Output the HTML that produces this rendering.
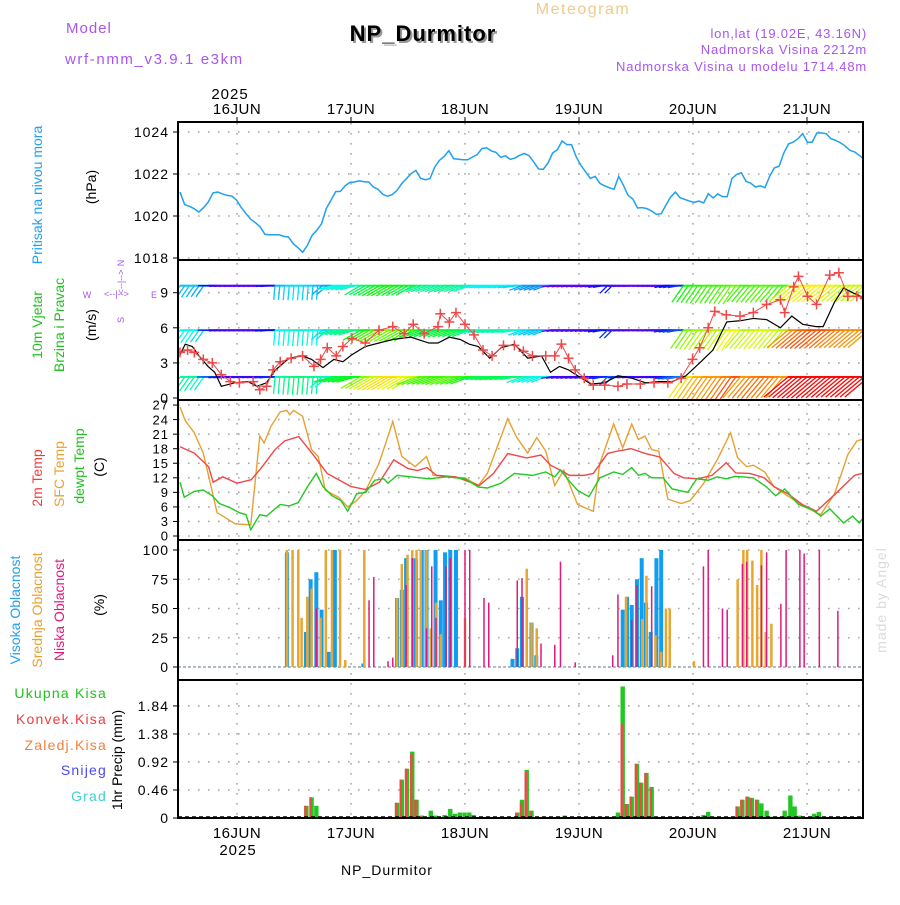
<!DOCTYPE html>
<html><head><meta charset="utf-8"><style>
body{margin:0;background:#fff;}
svg text{font-family:"Liberation Sans",sans-serif;}
</style></head><body>
<svg id="chart" width="900" height="900" viewBox="0 0 900 900" xmlns="http://www.w3.org/2000/svg">
<rect width="900" height="900" fill="#fff"/>
<text x="66" y="33" fill="#a855f0" font-size="15" letter-spacing="1">Model</text>
<text x="65" y="64" fill="#a855f0" font-size="15" letter-spacing="1.6">wrf-nmm_v3.9.1 e3km</text>
<text x="583" y="14" fill="#f2c98a" font-size="16" letter-spacing="1.5" text-anchor="middle">Meteogram</text>
<text x="425" y="43" fill="#999" font-size="22" font-weight="bold" text-anchor="middle" letter-spacing="1">NP_Durmitor</text>
<text x="423" y="41" fill="#000" font-size="22" font-weight="bold" text-anchor="middle" letter-spacing="1">NP_Durmitor</text>
<text x="867" y="38" fill="#a855f0" font-size="13" text-anchor="end" letter-spacing="0.8">lon,lat (19.02E, 43.16N)</text>
<text x="867" y="54" fill="#a855f0" font-size="13" text-anchor="end" letter-spacing="0.8">Nadmorska Visina 2212m</text>
<text x="867" y="71" fill="#a855f0" font-size="13" text-anchor="end" letter-spacing="0.8">Nadmorska Visina u modelu 1714.48m</text>
<text x="230" y="99" fill="#000" font-size="15" text-anchor="middle" letter-spacing="1">2025</text>
<text x="238" y="855" fill="#000" font-size="15" text-anchor="middle" letter-spacing="1">2025</text>
<text x="387" y="875" fill="#000" font-size="14" text-anchor="middle" letter-spacing="1">NP_Durmitor</text>
<text transform="translate(886,600) rotate(-90)" fill="#d8ddd8" font-size="14" text-anchor="middle" letter-spacing="1">made by Angel</text>

<g font-size="14">
<text transform="translate(42,195) rotate(-90)" fill="#1fa0f0" text-anchor="middle">Pritisak na nivou mora</text>
<text transform="translate(96,187) rotate(-90)" fill="#000" text-anchor="middle">(hPa)</text>
<text transform="translate(42,325) rotate(-90)" fill="#22c022" text-anchor="middle">10m Vjetar</text>
<text transform="translate(64,325) rotate(-90)" fill="#22c022" text-anchor="middle">Brzina i Pravac</text>
<text transform="translate(96,325) rotate(-90)" fill="#000" text-anchor="middle">(m/s)</text>
<text transform="translate(42,478) rotate(-90)" fill="#f03c3c" text-anchor="middle">2m Temp</text>
<text transform="translate(64,474) rotate(-90)" fill="#e8a030" text-anchor="middle">SFC Temp</text>
<text transform="translate(84,466) rotate(-90)" fill="#22c022" text-anchor="middle">dewpt Temp</text>
<text transform="translate(104,467) rotate(-90)" fill="#000" text-anchor="middle">(C)</text>
<text transform="translate(20,610) rotate(-90)" fill="#1fa0f0" text-anchor="middle">Visoka Oblacnost</text>
<text transform="translate(42,610) rotate(-90)" fill="#e8a030" text-anchor="middle">Srednja Oblacnost</text>
<text transform="translate(64,610) rotate(-90)" fill="#e0197d" text-anchor="middle">Niska Oblacnost</text>
<text transform="translate(104,605) rotate(-90)" fill="#000" text-anchor="middle">(%)</text>
<text transform="translate(122,760) rotate(-90)" fill="#000" text-anchor="middle">1hr Precip (mm)</text>
</g>
<g font-size="14" letter-spacing="1.2" text-anchor="end">
<text x="107" y="698" fill="#22c022">Ukupna Kisa</text>
<text x="107" y="724" fill="#f03c3c">Konvek.Kisa</text>
<text x="107" y="750" fill="#f08040">Zaledj.Kisa</text>
<text x="107" y="775" fill="#4848f0">Snijeg</text>
<text x="107" y="801" fill="#40d0d0">Grad</text>
</g>
<g fill="#a855f0" font-size="9" stroke="none">
<text x="87" y="298" text-anchor="middle">W</text>
<text x="154" y="298" text-anchor="middle">E</text>
<text x="104" y="297">&lt;--|--&gt;</text>
<text transform="translate(124,282) rotate(-90)" text-anchor="middle">&lt;--|--&gt;</text>
<text transform="translate(124,263) rotate(-90)" text-anchor="middle">N</text>
<text transform="translate(124,320) rotate(-90)" text-anchor="middle">S</text>
</g>
<g id="plot"></g>
</svg>
<script>
// ---------- data ----------
const dayLabels=["16JUN","17JUN","18JUN","19JUN","20JUN","21JUN"];
const dayHours=[12,36,60,84,108,132];
const pressureTicks=[1018,1020,1022,1024];
const windTicks=[0,3,6,9];
const tempTicks=[0,3,6,9,12,15,18,21,24,27];
const cloudTicks=[0,25,50,75,100];
const precipTicks=[0,0.46,0.92,1.38,1.84];

const pressure=[1021.14,1020.54,1020.46,1020.35,1020.19,1020.40,1020.67,1021.10,1021.14,1021.05,1020.98,1020.95,1020.75,1020.40,1020.11,1019.84,1019.68,1019.48,1019.13,1019.11,1019.11,1019.11,1019.03,1019.00,1018.68,1018.49,1018.27,1018.60,1019.08,1019.32,1019.63,1020.35,1020.75,1021.16,1021.17,1021.44,1021.60,1021.62,1021.68,1021.63,1021.62,1021.38,1021.27,1021.03,1020.94,1021.02,1021.22,1021.54,1021.78,1022.02,1022.17,1021.79,1021.73,1021.78,1022.33,1022.65,1022.84,1023.11,1022.73,1022.70,1022.68,1022.68,1022.81,1022.92,1023.21,1023.25,1023.10,1023.03,1022.79,1022.87,1022.70,1022.76,1022.89,1022.98,1022.87,1022.57,1022.24,1022.22,1022.52,1023.00,1023.16,1023.57,1023.40,1023.40,1022.81,1022.41,1022.10,1021.79,1021.89,1021.56,1021.44,1021.35,1021.27,1021.89,1021.46,1020.98,1020.81,1020.38,1020.40,1020.35,1020.24,1020.08,1020.11,1020.51,1020.90,1021.14,1020.87,1020.79,1020.71,1020.65,1020.71,1020.62,1021.06,1020.86,1021.05,1020.92,1020.92,1021.78,1021.98,1022.06,1021.65,1021.56,1021.38,1021.44,1021.35,1021.89,1022.29,1022.37,1023.00,1023.43,1023.52,1023.68,1023.92,1023.51,1023.51,1023.95,1023.95,1023.92,1023.68,1023.60,1023.49,1023.33,1023.13,1023.05,1022.89,1022.70];

const t2Hours=[0,3,6,7,9,12,15,17,20,22,25,28,31,33,36,39,42,45,48,50,52,54,58,63,66,69,73,76,78,80,82,85,87,90,92,95,98,101,104,106,109,112,115,117,120,123,125,128,131,134,138,142,144];
const t2Values=[18.4,17.1,14.3,11.1,12.2,10.9,11.6,13.9,17.8,19.6,20.5,16.8,12.9,11.8,10.2,9.6,11.1,15.7,13.9,13.5,14.1,12.5,12.2,10.4,12.9,17.0,16.1,16.7,14.6,13.6,12.5,12.5,12.9,17.0,17.5,18.0,17.0,16.3,12.9,12.0,11.8,12.5,15.1,13.0,12.9,12.0,10.2,8.7,6.5,5.1,8.7,12.5,13.0];
const sfcHours=[0,1.1,3,4.9,6.4,7.8,9.7,11.6,14.9,16.8,17.7,19.2,21.1,22.5,23.1,23.9,25.8,27.7,29.1,30.6,33.4,35.3,37.2,39.1,41.9,43.8,44.8,46.7,49.5,51.9,53.3,56.2,60,62.8,64.7,67.1,69,70.9,73.2,75.1,77,78.9,80.8,83.7,87,88.4,91.3,93.2,95.1,96.5,97.9,99.3,100.8,102.7,105.5,107.4,110.2,113.1,115.9,117.4,119.3,120.7,123.1,125,127.3,131.1,134.9,137.8,140.6,142.5,144.2];
const sfcValues=[26.6,23.8,21.3,17.1,10.8,4.8,3.7,2.5,2.3,20.6,19.2,22.7,25.6,25.9,25.0,25.9,24.7,17.8,16.4,9.4,8.0,6.0,7.3,9.4,15.0,20.6,23.6,16.4,14.3,16.4,12.5,12.2,12.0,10.4,12.9,19.2,24.2,20.3,17.1,20.3,17.5,10.4,13.6,6.5,5.1,15.0,23.1,18.2,23.1,19.9,20.6,17.8,17.5,7.6,6.7,7.3,10.8,15.7,21.3,16.1,14.3,14.6,13.2,10.2,8.7,6.2,4.4,8.7,16.8,19.6,20.1];
const dewHours=[0,0.9,3,4.9,6.8,8.3,10.6,12.5,13.9,14.9,16.8,18.2,21.1,23,24.9,26.8,28.7,30.1,32,33.9,35.3,37.2,39.1,41,42.9,43.8,45.7,48.6,52.4,56.2,60,62.8,64.7,67.6,70.4,74.2,77,78.9,80.1,81.8,83.7,86.1,88.4,91.3,93.2,95.1,96.5,97.9,99.3,101.7,103.6,106.9,108.8,111.2,113.1,115,116.9,120.7,123.5,125.4,127.3,130.2,133,134.9,136.8,139.7,141.6,143,144.4];
const dewValues=[11.1,8.0,9.2,9.5,8.3,6.7,5.8,4.8,4.4,1.3,4.4,4.1,6.5,6.2,6.9,10.1,12.9,10.2,8.3,7.3,5.1,8.7,9.0,11.5,11.8,10.9,12.5,12.2,11.8,12.2,11.8,10.1,9.9,10.9,12.9,12.5,13.2,12.2,13.6,11.5,9.4,8.1,12.0,13.2,12.7,14.1,12.5,12.9,12.0,12.0,9.7,9.0,11.8,11.5,12.2,11.8,12.3,12.0,10.1,8.3,9.7,6.5,5.5,4.1,5.6,2.7,4.1,2.7,4.4];

const windHours=[0,1.1,2.6,4,5.9,7.3,8.7,11.5,14.3,16.2,18.2,20.1,23,25.8,27.7,30.1,32.4,34.3,36.2,39,41.9,44.8,48.6,52.4,54.3,56.7,59,60.9,62.8,65.2,67.6,70.4,73.2,76.1,78,79.9,81.8,83.7,86.5,89.4,92.2,95.1,98,100.8,103.6,106.5,109.4,112.2,115.1,117.9,120.7,123.5,126.4,128.8,131.1,133.9,135.4,137.8,139.7,141.6,144.4];
const windSpeed=[3.7,4.6,4.4,3.6,2.7,2.2,1.0,1.3,1.4,1.0,1.3,2.4,3.4,3.6,3.3,2.6,3.3,3.1,3.7,4.4,4.7,5.0,5.2,4.7,4.7,5.2,5.0,4.6,4.4,3.4,4.3,4.6,3.4,3.6,2.2,2.7,2.4,1.9,1.2,1.3,1.9,1.7,1.3,1.4,1.4,1.9,3.0,4.1,6.5,6.6,6.8,6.7,6.0,7.0,6.3,6.1,6.1,8.2,9.4,9.0,8.5];
const gustHours=[0,1.6,3,4.9,6.8,8.7,10.6,12.5,15.4,16.8,18.2,19.6,21.1,23.4,25.8,28.2,29.6,31.0,32.9,34.3,36.2,39,41.9,44.8,47.2,49.1,51.4,54.3,54.8,56.7,58.1,60,61.9,63.8,65.7,68.1,70.4,72.3,74.2,77,78.9,80.3,81.8,83.2,85.1,87,89.4,92.2,94.1,96.9,99.8,102.7,105.5,107.9,109.4,111.2,112.6,115,117.9,120.7,123.5,126.4,127.3,129.2,130.2,132.1,134,136.8,138.7,140.6,142.5,144.2];
const gustValues=[3.9,4.1,3.9,3.3,3.0,2.0,1.4,1.3,1.4,0.7,1.0,2.4,3.1,3.4,3.6,2.7,3.3,4.3,3.6,4.4,5.1,4.7,5.8,6.1,5.5,6.3,5.5,6.1,7.2,6.5,7.3,6.3,5.4,4.1,3.6,4.5,4.5,4.0,3.6,3.6,3.6,4.6,3.4,2.4,1.7,1.1,1.1,1.0,1.2,1.2,1.3,1.3,1.7,3.3,4.3,6.0,7.4,7.1,7.0,7.3,8.0,8.4,7.3,9.5,10.4,8.7,8.0,10.5,10.7,8.7,8.7,8.5];

// barbs every 2 h: direction (deg, from) and speed at barb level
const barbDir=[215,215,215,270,275,275,275,275,275,275,185,185,185,185,185,230,255,255,255,240,240,240,240,240,240,250,250,250,250,250,250,262,262,262,262,262,250,250,250,278,278,278,278,278,260,225,275,275,275,275,275,260,260,215,215,215,215,215,215,220,220,220,220,220,230,230,230,230,230,230,230,230,230];
const barbSpeed=[3.5,3.5,3.2,1.6,0.9,0.8,0.8,0.8,0.8,1.4,3.5,3.7,3.8,3.7,3.5,3.2,4.2,4.3,4.5,5.5,6.0,6.5,6.5,6.2,6.0,5.2,5.0,5.0,5.2,5.0,4.8,4.0,4.0,4.2,4.0,3.8,3.2,3.0,3.0,0.8,0.7,0.8,0.8,0.9,1.4,1.8,0.8,0.8,0.7,0.8,0.9,1.6,2.0,6.5,6.8,7.0,7.0,7.2,7.5,7.0,7.2,7.3,7.2,7.0,8.5,8.8,9.0,9.0,8.8,8.6,8.5,8.5,8.4];
const barbLevels=[9.6,5.8,1.8];
const barbLevelFactor=[0.85,1.0,1.2];

const highHours=[22.5,26.5,27.5,28.7,29.8,31.3,32.6,38.6,45.7,46.7,47.6,49.1,49.7,50.9,51.9,53.8,54.9,55.8,56.9,58.1,70.0,71.0,72.0,74.0,75.0,93.2,94.1,95.1,96.2,97.2,98.1,99.1,100.3,101.3];
const highValues=[98,30,75,81,49,13,100,3,59,66,93,93,92,100,100,100,57,98,100,100,7,16,60,38,10,49,60,53,75,93,55,30,93,100];
const midHours=[22.5,23.7,24.9,25.6,26.8,27.7,29.6,30.7,32.0,33.7,34.8,38.8,45.7,46.7,47.9,48.9,49.8,50.7,51.9,52.8,53.9,54.9,60.0,73.0,74.0,75.1,93.9,97.3,98.2,100.1,101.3,102.3,103.1,108.2,117.4,118.6,119.4,120.5,121.5,122.4,123.3,124.5];
const midValues=[100,100,100,42,60,67,42,100,100,100,6,100,59,88,96,100,100,100,100,33,55,28,42,84,38,33,60,41,78,27,13,50,50,5,75,100,100,91,70,100,30,37];
const lowHours=[28.7,39.8,40.8,43.8,44.8,47.6,48.9,51.9,53.0,53.9,56.0,56.9,60.0,61.0,64.0,65.0,71.0,72.0,76.0,78.9,80.1,83.2,91.1,92.2,95.1,96.2,99.3,110.2,111.2,114.2,115.2,118.4,119.3,122.4,123.5,126.5,127.6,130.5,131.4,134.6,138.5];
const lowValues=[50,57,77,5,8,70,93,33,86,42,86,93,100,100,59,55,74,76,20,19,90,4,10,62,40,70,69,86,100,50,49,88,90,87,98,54,100,100,97,100,48];

const precipHours=[26.6,27.7,28.7,45.7,46.7,47.8,48.9,49.8,50.9,52.8,53.8,55.7,56.9,57.9,58.9,59.9,60.9,61.8,71.0,72.0,73.0,74.0,81.0,92.2,93.2,94.1,95.1,96.2,97.1,98.2,99.3,110.2,111.2,112.3,117.4,118.4,119.5,120.4,121.5,122.4,123.5,124.5,125.4,127.3,128.5,129.4,130.5,133.5,134.5,135.5];
const precipTotal=[0.20,0.34,0.20,0.25,0.63,0.81,1.09,0.30,0.04,0.12,0.04,0.05,0.15,0.07,0.09,0.09,0.09,0.05,0.09,0.30,0.79,0.12,0.04,0.09,2.16,0.23,0.35,0.89,0.58,0.74,0.51,0.05,0.10,0.02,0.19,0.30,0.35,0.33,0.30,0.24,0.12,0.02,0.02,0.12,0.37,0.19,0.04,0.07,0.10,0.02];
const precipConv=[0.20,0.34,0.00,0.25,0.63,0.81,1.05,0.30,0.04,0.00,0.00,0.00,0.00,0.00,0.00,0.00,0.00,0.00,0.09,0.25,0.76,0.12,0.00,0.00,1.54,0.23,0.35,0.89,0.58,0.74,0.51,0.00,0.00,0.00,0.19,0.30,0.35,0.33,0.30,0.00,0.00,0.00,0.00,0.00,0.00,0.00,0.00,0.00,0.00,0.00];

// ---------- axes ----------
const L=178,R=863;
const X=h=>180+h*4.75;
const Yp=p=>132+(1024-p)*21;
const Yw=v=>398-v*11.7;
const Yt=t=>536-t*4.85;
const Yc=c=>667-c*1.17;
const Yr=m=>818-m*60.9;
const panels=[[122,260],[260,400],[400,540],[540,680],[680,818]];

const NS='http://www.w3.org/2000/svg';
const plot=document.getElementById('plot');
function el(tag,attrs,parent){const e=document.createElementNS(NS,tag);for(const k in attrs)e.setAttribute(k,attrs[k]);(parent||plot).appendChild(e);return e;}
const defs=el('defs',{});
panels.forEach((p,i)=>{const c=el('clipPath',{id:'clip'+i},defs);el('rect',{x:L,y:p[0],width:R-L,height:p[1]-p[0]},c);});

// grid
const grid=el('g',{stroke:'#aaa','stroke-width':1.6,'stroke-dasharray':'1.6 8.4',fill:'none'});


dayHours.forEach(h=>{el('line',{x1:X(h),x2:X(h),y1:123,y2:817},grid);});
function hgrid(ticks,Y){ticks.forEach(t=>{el('line',{x1:L,x2:R,y1:Y(t),y2:Y(t)},grid);});}
hgrid(pressureTicks,Yp);hgrid(windTicks.slice(1),Yw);hgrid(tempTicks,Yt);hgrid(cloudTicks,Yc);hgrid(precipTicks.slice(1),Yr);

// tick labels
function ticks(arr,Y,name,fs,fmt){const g=el('g',{'font-size':fs,'text-anchor':'end',fill:'#000','letter-spacing':1});


arr.forEach(t=>{const tx=el('text',{x:169,y:Y(t)+fs*0.36},g);tx.textContent=fmt?fmt(t):t;el('line',{x1:L-5,x2:L,y1:Y(t),y2:Y(t),stroke:'#000'},g);});}
ticks(pressureTicks,Yp,'pressure-axis',14);
ticks(windTicks,Yw,'wind-axis',14);
ticks(tempTicks,Yt,'temp-axis',13);
ticks(cloudTicks,Yc,'cloud-axis',14);
ticks(precipTicks,Yr,'precip-axis',14,t=>t===0?'0':t.toFixed(2));

// day labels
const dl=el('g',{'font-size':15,'text-anchor':'middle',fill:'#000','letter-spacing':0.5});


dayHours.forEach((h,i)=>{
 const a=el('text',{x:X(h),y:114},dl);a.textContent=dayLabels[i];
 const b=el('text',{x:X(h),y:838},dl);b.textContent=dayLabels[i];
 el('line',{x1:X(h),x2:X(h),y1:117,y2:122,stroke:'#000'},dl);
});

// pressure line
const n=pressure.length;
const pp=pressure.map((p,i)=>X(i*144/(n-1))+','+Yp(p)).join(' ');
const pl=el('polyline',{points:pp,fill:'none',stroke:'#1fa0f0','stroke-width':1.5,'clip-path':'url(#clip0)'});



// wind barbs
const bg=el('g',{'clip-path':'url(#clip1)','stroke-width':1.3});


barbLevels.forEach((lv,r)=>{
 const baseY=Yw(lv);
 barbDir.forEach((d,i)=>{
  const s=barbSpeed[i]*barbLevelFactor[r];
  const hue=Math.max(0,Math.min(280,280-s*29));
  const col='hsl('+hue+',95%,50%)';
  const len=7+s*2.4;
  const rad=d*Math.PI/180;
  const x0=X(i*2),y0=baseY;
  const x1=x0+Math.sin(rad)*len, y1=y0+Math.abs(Math.cos(rad))*len;
  if(i<barbDir.length-1){const ln2=el('line',{x1:x0,y1:y0,x2:X(i*2+2),y2:baseY,stroke:col,'stroke-width':2},bg);
  
  }
  const ln=el('line',{x1:x0,y1:y0,x2:x1,y2:y1,stroke:col},bg);
  
  
  const lnb=el('line',{x1:x0+4.75,y1:y0,x2:x1+4.75,y2:y1,stroke:col},bg);
  
  
 });
});
// wind speed & gusts
const ws=el('polyline',{points:windHours.map((h,i)=>X(h)+','+Yw(windSpeed[i])).join(' '),fill:'none',stroke:'#000','stroke-width':1.2,'clip-path':'url(#clip1)'});


const gl=el('polyline',{points:gustHours.map((h,i)=>X(h)+','+Yw(gustValues[i])).join(' '),fill:'none',stroke:'#f04848','stroke-width':1,'clip-path':'url(#clip1)'});


const gm=el('g',{stroke:'#f04848','stroke-width':1.5,'clip-path':'url(#clip1)'});


gustHours.forEach((h,i)=>{const x=X(h),y=Yw(gustValues[i]);
 const m=el('path',{d:`M${x-5},${y}H${x+5}M${x},${y-5}V${y+5}`},gm);
 
 });

// temps
[[sfcHours,sfcValues,'#e8a030','sfc-temp-line'],[t2Hours,t2Values,'#f04848','temp-2m-line'],[dewHours,dewValues,'#22c822','dewpoint-line']].forEach(s=>{
 const l=el('polyline',{points:s[0].map((h,i)=>X(h)+','+Yt(s[1][i])).join(' '),fill:'none',stroke:s[2],'stroke-width':1.4,'clip-path':'url(#clip2)'});
 
 
});

// clouds
const cb=el('line',{x1:L,x2:R,y1:Yc(0),y2:Yc(0),stroke:'#9ab','stroke-width':1.5,'stroke-dasharray':'3 2'});


[[highHours,highValues,'#109ef0',4,'high-cloud-bar'],[midHours,midValues,'#e8a530',2.5,'mid-cloud-bar'],[lowHours,lowValues,'#e0197d',1.5,'low-cloud-bar']].forEach(s=>{
 s[0].forEach((h,i)=>{const y=Yc(s[1][i]);
  const b=el('rect',{x:X(h)-s[3]/2,y:y,width:s[3],height:Yc(0)-y,fill:s[2],'clip-path':'url(#clip3)'});
  
  });
});

// precip
precipHours.forEach((h,i)=>{
 const x=X(h);const yt=Yr(precipTotal[i]);
 const g=el('rect',{x:x-2.2,y:yt,width:4.4,height:818-yt,fill:'#22c822','clip-path':'url(#clip4)'});
 
 
 if(precipConv[i]>0){const yc=Yr(precipConv[i]);
  const c=el('rect',{x:x-2.2,y:yc,width:2.4,height:818-yc,fill:'#f04848','clip-path':'url(#clip4)'});
  
  }
});
const pb=el('line',{x1:L,x2:R,y1:817,y2:817,stroke:'#000','stroke-width':1.5,'stroke-dasharray':'4 3'});



// frames
const fr=el('g',{fill:'none',stroke:'#000','stroke-width':2});


panels.forEach(p=>{el('rect',{x:L,y:p[0],width:R-L,height:p[1]-p[0]},fr);});
</script>
</body></html>
